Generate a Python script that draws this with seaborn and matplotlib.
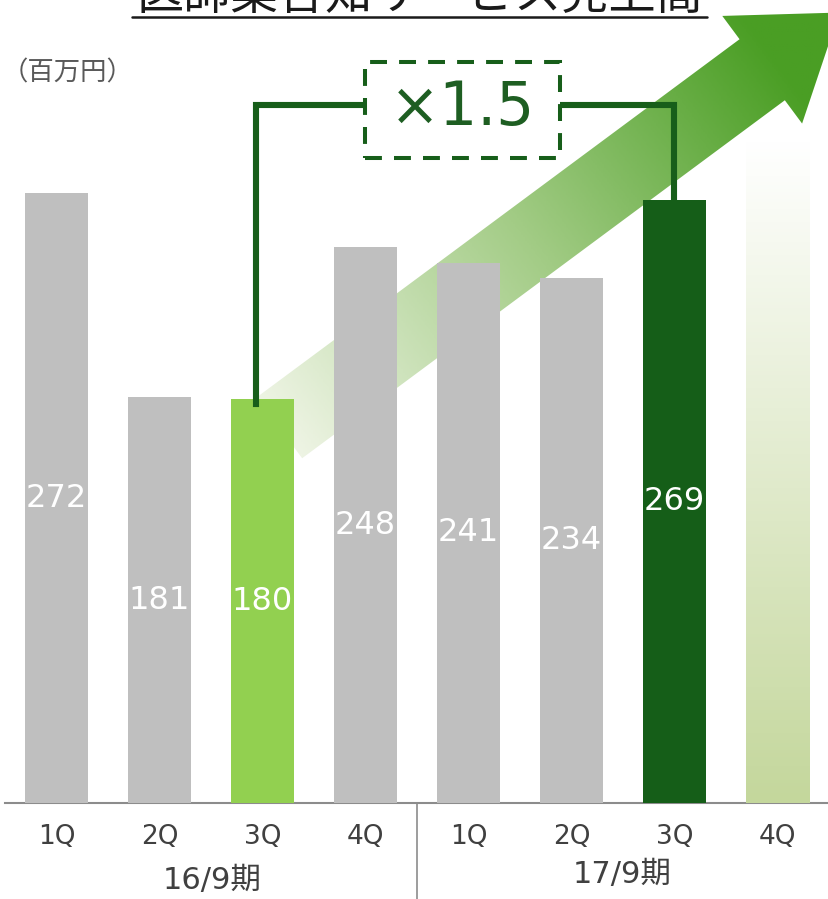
import numpy as np
import pandas as pd
import seaborn as sns
import matplotlib.pyplot as plt
from matplotlib.patches import Polygon, Rectangle
from matplotlib.colors import LinearSegmentedColormap
from matplotlib.transforms import blended_transform_factory
from matplotlib.lines import Line2D

# data
slots = ["16-1Q", "16-2Q", "16-3Q", "16-4Q", "17-1Q", "17-2Q", "17-3Q", "17-4Q"]
quarters = ["1Q", "2Q", "3Q", "4Q", "1Q", "2Q", "3Q", "4Q"]
periods = ["16/9期", "17/9期"]
sales = [272, 181, 180, 248, 241, 234, 269]
forecast_4q = 296
bar_colors = ["#bfbfbf", "#bfbfbf", "#92d050", "#bfbfbf",
              "#bfbfbf", "#bfbfbf", "#155e18", "#ffffff"]
title = "医師集合知サービス売上高"
unit = "（百万円）"
growth = "×1.5"

sns.set_theme(style="white")
plt.rcParams['font.family'] = ['DejaVu Sans', 'Noto Sans CJK JP']

df = pd.DataFrame({'slot': slots, 'sales': sales + [forecast_4q]})

fig = plt.figure(figsize=(8.29, 8.99), dpi=100)
ax = fig.add_axes([5 / 829, 96 / 899, 824 / 829, 803 / 899])
ax.patch.set_alpha(0)

sns.barplot(data=df, x='slot', y='sales', hue='slot', palette=bar_colors,
            legend=False, width=0.62, saturation=1, linewidth=0, ax=ax)
for p in ax.patches:
    p.set_zorder(3)

ymax = 358.2
ax.set_xlim(-0.5, 7.5)
ax.set_ylim(0, ymax)

# forecast bar as vertical gradient
fc = ax.patches[7]
fc.set_facecolor('none')
grad_cmap = LinearSegmentedColormap.from_list('fc', ['#c4d79c', '#ffffff'])
ax.imshow(np.linspace(0, 1, 200).reshape(-1, 1), cmap=grad_cmap, aspect='auto',
          origin='lower', extent=(fc.get_x(), fc.get_x() + fc.get_width(), 0, fc.get_height()),
          zorder=3)

# big gradient arrow behind bars (drawn in pixel space)
fig.canvas.draw()
tr = ax.transData
tail = tr.transform((2.165, 167.4))
tip = tr.transform((7.6, 352.6))
d = (tip - tail) / np.linalg.norm(tip - tail)
n = np.array([-d[1], d[0]])
L = np.linalg.norm(tip - tail)
head_len, shaft_hw, head_hw = 96, 38, 67
base = tip - d * head_len
pts_px = np.array([tail - n * shaft_hw, base - n * shaft_hw, base - n * head_hw, tip,
                   base + n * head_hw, base + n * shaft_hw, tail + n * shaft_hw])
pts = tr.inverted().transform(pts_px)
arrow = Polygon(pts, closed=True, facecolor='none', edgecolor='none', transform=ax.transData)
ax.add_patch(arrow)

gx = np.linspace(-0.5, 7.5, 420)
gy = np.linspace(0, ymax, 420)
GX, GY = np.meshgrid(gx, gy)
P = tr.transform(np.column_stack([GX.ravel(), GY.ravel()]))
t = ((P - tail) @ d / (L - head_len * 0.8)).reshape(GX.shape)
arrow_cmap = LinearSegmentedColormap.from_list('arr', ['#eef4e4', '#a3cc86', '#4a9e24'])
img = ax.imshow(np.clip(t, 0, 1), cmap=arrow_cmap, vmin=0, vmax=1, aspect='auto', origin='lower',
                extent=(-0.5, 7.5, 0, ymax), zorder=1)
img.set_clip_path(arrow)
ax.set_xlim(-0.5, 7.5)
ax.set_ylim(0, ymax)

# value labels inside bars
for i, v in enumerate(sales):
    ax.text(i, v / 2, str(v), ha='center', va='center', color='white', fontsize=23, zorder=5)

# bracket showing growth
green = '#175e1a'
yb = 311.3
ax.plot([1.937, 1.937, 2.995], [sales[2] - 2, yb, yb], color=green, lw=4.4,
        solid_joinstyle='miter', solid_capstyle='projecting', zorder=4)
ax.plot([4.888, 5.995, 5.995], [yb, yb, sales[6]], color=green, lw=4.4,
        solid_joinstyle='miter', solid_capstyle='butt', zorder=4)
ax.add_patch(Rectangle((2.995, 287.7), 1.893, 42.8, facecolor='white', edgecolor=green,
                       lw=2.9, linestyle=(0, (4.2, 3.0)), zorder=4))
ax.text(3.94, 310, growth, ha='center', va='center', color='#1e5e22', fontsize=43, zorder=5)

# axes styling
for s in ['top', 'right', 'left']:
    ax.spines[s].set_visible(False)
ax.spines['bottom'].set_color('#8c8c8c')
ax.spines['bottom'].set_linewidth(1.5)
ax.set_yticks([])
ax.set_xticks(range(8))
ax.set_xticklabels(quarters, fontsize=19, color='#404040')
ax.tick_params(axis='x', length=0, pad=15)
ax.set_xlabel('')
ax.set_ylabel('')

ax.plot([3.5, 3.5], [0, -45], color='#8c8c8c', lw=1.2, clip_on=False)

bt = blended_transform_factory(ax.transData, fig.transFigure)
ax.text(1.51, 1 - 881 / 899, periods[0], transform=bt, ha='center', va='center',
        fontsize=22, color='#404040')
ax.text(5.49, 1 - 874 / 899, periods[1], transform=bt, ha='center', va='center',
        fontsize=22, color='#404040')

fig.text(2 / 829, 1 - 73 / 899, unit, ha='left', va='center', fontsize=19, color='#595959',
         family=['Noto Sans CJK JP', 'DejaVu Sans'])

# title, partly cut off at the top as in the source slide
fig.text(420 / 829, 1 + 4 / 899, title, ha='center', va='center', fontsize=34, color='#1a1a1a',
         family=['Noto Sans CJK JP', 'DejaVu Sans'])
fig.add_artist(Line2D([132 / 829, 707 / 829], [1 - 17 / 899, 1 - 17 / 899],
                      color='#1a1a1a', lw=1.8, transform=fig.transFigure))

fig.savefig('out.png', dpi=100)
